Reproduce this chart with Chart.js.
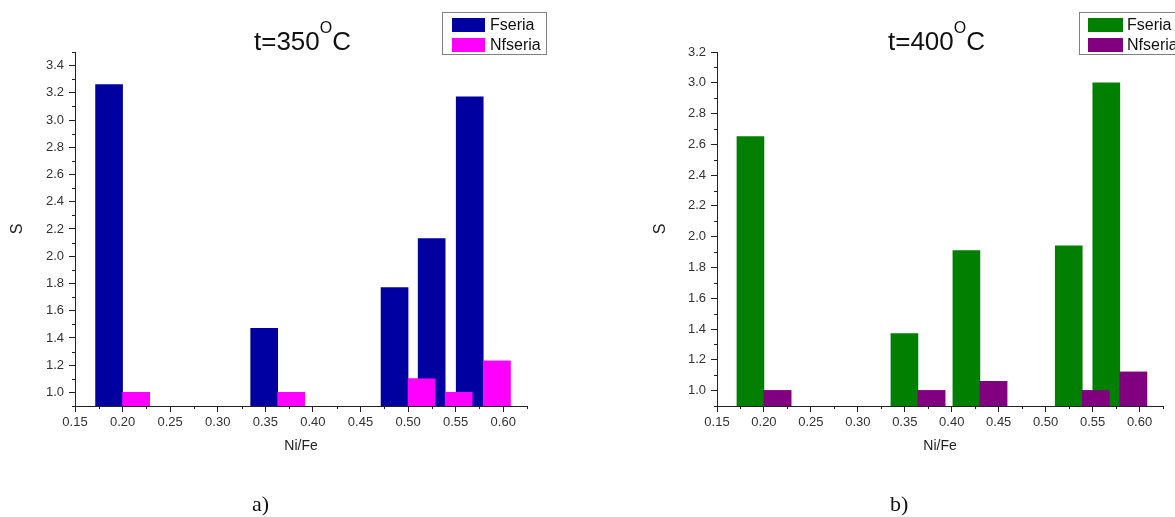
<!DOCTYPE html>
<html>
<head>
<meta charset="utf-8">
<script src="https://cdn.jsdelivr.net/npm/chart.js@4"></script>
<style>
  html, body { margin: 0; padding: 0; background: #fff; }
  body { width: 1175px; height: 517px; position: relative; overflow: hidden;
         font-family: 'Liberation Sans', Arial, sans-serif; color: #111; }
  canvas { position: absolute; top: 0; }
  #chartA { left: 0; }
  #chartB { left: 640px; }
  .title { position: absolute; top: 28px; font-size: 26px; line-height: 26px; white-space: nowrap; }
  .title span { font-size: 16px; position: relative; top: -17px; }
  .legend { position: absolute; top: 12px; height: 41px; border: 1px solid #808080; background: #fff; }
  .legend .sw { position: absolute; height: 14px; }
  .legend .lt { position: absolute; left: 47px; font-size: 16px; line-height: 16px; white-space: nowrap; }
  .sub { position: absolute; top: 493px; font-family: 'Liberation Serif', 'Times New Roman', serif;
         font-size: 22px; line-height: 22px; }
</style>
</head>
<body>
<canvas id="chartA" width="587" height="517"></canvas>
<canvas id="chartB" width="535" height="517"></canvas>

<div class="title" style="left:254px">t=350<span>O</span>C</div>
<div class="title" style="left:888px">t=400<span>O</span>C</div>

<div class="legend" style="left:442px; width:103px">
  <div class="sw" style="left:9px; top:5px; width:33px; background:#0000A0"></div>
  <div class="lt" style="top:4px">Fseria</div>
  <div class="sw" style="left:9px; top:25px; width:33px; background:#FF00FF"></div>
  <div class="lt" style="top:24px">Nfseria</div>
</div>
<div class="legend" style="left:1079px; width:110px">
  <div class="sw" style="left:8px; top:5px; width:35px; background:#007F00"></div>
  <div class="lt" style="top:4px">Fseria</div>
  <div class="sw" style="left:8px; top:25px; width:35px; background:#800080"></div>
  <div class="lt" style="top:24px">Nfseria</div>
</div>

<div class="sub" style="left:252px">a)</div>
<div class="sub" style="left:890px">b)</div>

<script>
// 数据 a) t=350
const ratioA = [0.20, 0.363, 0.50, 0.539, 0.579];
const fseriaA = [3.26, 1.47, 1.77, 2.13, 3.17];
const nfseriaA = [1.00, 1.00, 1.10, 1.00, 1.23];

// 数据 b) t=400
const ratioB = [0.20, 0.364, 0.43, 0.539, 0.579];
const fseriaB = [2.65, 1.37, 1.91, 1.94, 3.00];
const nfseriaB = [1.00, 1.00, 1.06, 1.00, 1.12];

// 刻度
const xTicks = [0.15, 0.20, 0.25, 0.30, 0.35, 0.40, 0.45, 0.50, 0.55, 0.60];
const yTicksA = [1.0, 1.2, 1.4, 1.6, 1.8, 2.0, 2.2, 2.4, 2.6, 2.8, 3.0, 3.2, 3.4];
const yTicksB = [1.0, 1.2, 1.4, 1.6, 1.8, 2.0, 2.2, 2.4, 2.6, 2.8, 3.0, 3.2];

Chart.defaults.font.family = "'Liberation Sans', Arial, sans-serif";
Chart.defaults.color = '#333';
const axisColor = '#222';

// 次刻度位置
function minorOf(major, min, max) {
    const half = (major[1] - major[0]) / 2;
    const out = [];
    major.forEach(v => {
        [v - half, v + half].forEach(m => {
            const r = Math.round(m * 1000) / 1000;
            if (r >= min - 1e-9 && r <= max + 1e-9 && !out.includes(r)) out.push(r);
        });
    });
    return out;
}

const extras = {
    id: 'extras',
    // Nfseria 画在上层
    afterDatasetsDraw(chart) {
        const {ctx, chartArea} = chart;
        ctx.save();
        ctx.beginPath();
        ctx.rect(chartArea.left, chartArea.top, chartArea.width, chartArea.height);
        ctx.clip();
        chart.getDatasetMeta(1).data.forEach(bar => bar.draw(ctx));
        ctx.restore();
    },
    // 次刻度线
    afterDraw(chart, args, opts) {
        const {ctx} = chart;
        const xs = chart.scales.x, ys = chart.scales.y;
        ctx.save();
        ctx.strokeStyle = axisColor;
        ctx.lineWidth = 1;
        ctx.beginPath();
        minorOf(xTicks, xs.min, xs.max).forEach(v => {
            const px = Math.round(xs.getPixelForValue(v)) + 0.5;
            ctx.moveTo(px, xs.top);
            ctx.lineTo(px, xs.top + 3);
        });
        minorOf(opts.yTicks, ys.min, ys.max).forEach(v => {
            const py = Math.round(ys.getPixelForValue(v)) + 0.5;
            ctx.moveTo(ys.right - 3, py);
            ctx.lineTo(ys.right, py);
        });
        ctx.stroke();
        ctx.restore();
    }
};

function makeChart(id, ratio, fVals, nVals, yTicks, yMax, fColor, nColor, padLeft, axisLeft, padRight) {
    return new Chart(document.getElementById(id), {
        type: 'bar',
        data: {
            datasets: [{
                label: 'Fseria',
                data: ratio.map((x, i) => ({x, y: fVals[i]})),
                backgroundColor: fColor,
                barThickness: 27
            }, {
                label: 'Nfseria',
                data: ratio.map((x, i) => ({x, y: nVals[i]})),
                backgroundColor: nColor,
                barThickness: 27
            }]
        },
        options: {
            responsive: false,
            animation: false,
            layout: { padding: { left: padLeft, top: 52, right: padRight, bottom: 62 } },
            plugins: {
                legend: { display: false },
                tooltip: { enabled: false },
                extras: { yTicks }
            },
            scales: {
                x: {
                    type: 'linear',
                    min: 0.15,
                    max: 0.625,
                    offset: false,
                    afterBuildTicks: s => { s.ticks = xTicks.map(v => ({value: v})); },
                    afterFit: s => { s.height = 49; },
                    grid: { drawOnChartArea: false, offset: false, tickLength: 6, color: axisColor },
                    border: { color: axisColor },
                    ticks: { autoSkip: false, maxRotation: 0, padding: 3, font: { size: 13 },
                             callback: v => v.toFixed(2) },
                    title: { display: true, text: 'Ni/Fe', font: { size: 14 }, color: '#222', padding: 0 }
                },
                y: {
                    min: 0.9,
                    max: yMax,
                    beginAtZero: false,
                    afterBuildTicks: s => { s.ticks = yTicks.map(v => ({value: v})); },
                    afterFit: s => { s.width = axisLeft - padLeft; },
                    grid: { drawOnChartArea: false, tickLength: 6, color: axisColor },
                    border: { color: axisColor },
                    ticks: { padding: 5, font: { size: 13 }, callback: v => v.toFixed(1) },
                    title: { display: true, text: 'S', font: { size: 16 }, color: '#222', padding: 0 }
                }
            }
        },
        plugins: [extras]
    });
}

makeChart('chartA', ratioA, fseriaA, nfseriaA, yTicksA, 3.5, '#0000A0', '#FF00FF', 8, 75, 60);
makeChart('chartB', ratioB, fseriaB, nfseriaB, yTicksB, 3.2, '#007F00', '#800080', 11, 77, 12);
</script>
</body>
</html>
